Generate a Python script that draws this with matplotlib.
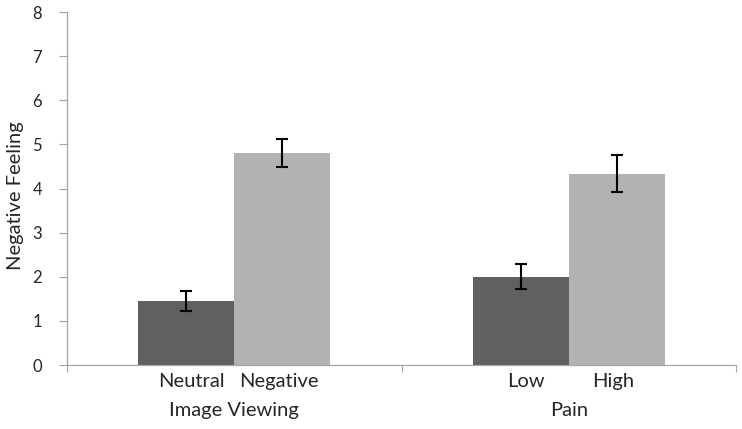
import matplotlib
matplotlib.use('Agg')
import matplotlib.pyplot as plt
import matplotlib.transforms as mtransforms
import numpy as np

# data
groups = ['Image Viewing', 'Pain']
cond_labels = [['Neutral', 'Negative'], ['Low', 'High']]
first_vals = [1.45, 2.0]     # Neutral, Low
first_err = [0.22, 0.28]
second_vals = [4.80, 4.34]   # Negative, High
second_err = [0.32, 0.41]
y_ticks = [0, 1, 2, 3, 4, 5, 6, 7, 8]

DARK = '#606060'
LIGHT = '#b2b2b2'
AXIS = '#a6a6a6'
TEXT = '#262626'

plt.rcParams['font.family'] = ['Lato', 'DejaVu Sans']

fig = plt.figure(figsize=(7.42, 4.29), dpi=100)
ax = fig.add_axes([0.0903, 0.149, 0.902, 0.823])

x = np.arange(len(groups))
w = 0.287
ax.bar(x - w / 2, first_vals, width=w, color=DARK, zorder=2)
ax.bar(x + w / 2, second_vals, width=w, color=LIGHT, zorder=2)
ax.errorbar(x - w / 2, first_vals, yerr=first_err, fmt='none', ecolor='black',
            elinewidth=1.5, capsize=4, capthick=1.5, zorder=3)
ax.errorbar(x + w / 2, second_vals, yerr=second_err, fmt='none', ecolor='black',
            elinewidth=1.5, capsize=4, capthick=1.5, zorder=3)

ax.set_xlim(-0.5, len(groups) - 0.5)
ax.set_ylim(0, 8)
ax.set_yticks(y_ticks)
ax.set_yticklabels([str(t) for t in y_ticks], fontsize=12, color=TEXT)
ax.set_ylabel('Negative Feeling', fontsize=14.5, color=TEXT)
ax.yaxis.set_label_coords(-0.064, 0.48)

# group boundary ticks only on x
ax.set_xticks(np.arange(len(groups) + 1) - 0.5)
ax.set_xticklabels([])
ax.tick_params(axis='x', length=5, color=AXIS, width=0.8)
ax.tick_params(axis='y', length=6, color=AXIS, width=0.8, pad=12)

for s in ['top', 'right']:
    ax.spines[s].set_visible(False)
for s in ['left', 'bottom']:
    ax.spines[s].set_color(AXIS)
    ax.spines[s].set_linewidth(0.9)

trans = mtransforms.blended_transform_factory(ax.transData, fig.transFigure)
for i, g in enumerate(groups):
    ax.text(x[i] - w / 2 + 0.015, 0.11, cond_labels[i][0], transform=trans,
            ha='center', va='center', fontsize=14.5, color=TEXT)
    ax.text(x[i] + w / 2 - 0.01, 0.11, cond_labels[i][1], transform=trans,
            ha='center', va='center', fontsize=14.5, color=TEXT)
    ax.text(x[i], 0.042, g, transform=trans, ha='center', va='center',
            fontsize=14.5, color=TEXT)

fig.savefig('out.png', dpi=100)
